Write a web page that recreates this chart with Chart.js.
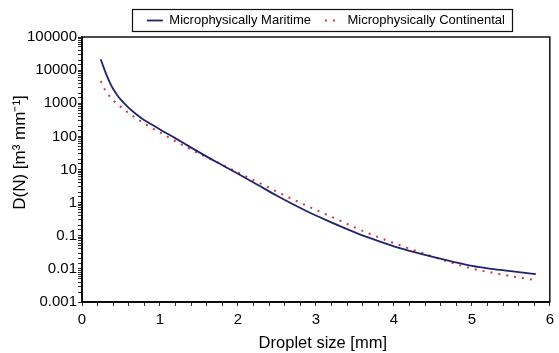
<!DOCTYPE html>
<html><head><meta charset="utf-8">
<script src="https://cdn.jsdelivr.net/npm/chart.js@4/dist/chart.umd.min.js"></script>
<style>html,body{margin:0;padding:0;background:#fff}#wrap{width:559px;height:353px}</style>
</head><body><div id="wrap"><canvas id="c" width="559" height="353"></canvas></div>
<script>
const dropletSize = [0.24, 0.27, 0.3, 0.35, 0.4, 0.45, 0.5, 0.6, 0.7, 0.8, 0.9, 1.0, 1.2, 1.4, 1.6, 1.8, 2.0, 2.25, 2.5, 2.75, 3.0, 3.25, 3.5, 3.75, 4.0, 4.25, 4.5, 4.75, 5.0, 5.25, 5.5, 5.82];
const maritime = [21380, 13490, 8710, 4570, 2690, 1780, 1260, 724, 457, 309, 224, 162, 87, 45.7, 24.5, 13.5, 7.41, 3.47, 1.62, 0.794, 0.407, 0.224, 0.126, 0.0759, 0.0479, 0.0324, 0.0229, 0.0166, 0.0123, 0.0100, 0.0085, 0.0069];
const continental = [4680, 3310, 2400, 1660, 1230, 955, 759, 501, 347, 245, 178, 132, 70.8, 39.8, 23.4, 13.8, 8.13, 4.17, 2.14, 1.12, 0.603, 0.331, 0.178, 0.100, 0.0603, 0.0372, 0.0234, 0.0151, 0.0102, 0.00776, 0.00603, 0.00457];
const seriesNames = ['Microphysically Maritime', 'Microphysically Continental'];
const xTickLabels = ['0', '1', '2', '3', '4', '5', '6'];
const yTickLabels = ['100000', '10000', '1000', '100', '10', '1', '0.1', '0.01', '0.001'];

Chart.defaults.font.family = "'Liberation Sans', Arial, sans-serif";
Chart.defaults.color = '#000';
const tickFont = {size: 15};

const toPts = arr => dropletSize.map((x, i) => ({x: x, y: arr[i]}));

const framePlugin = {
  id: 'frame',
  afterLayout(chart) {
    const l = chart.legend;
    if (l) { l.left += 10; l.right += 10; }
  },
  afterDatasetsDraw(chart) {
    const a = chart.chartArea, ctx = chart.ctx;
    ctx.save();
    ctx.strokeStyle = '#111';
    ctx.lineWidth = 1.5;
    ctx.strokeRect(a.left, a.top, a.right - a.left, a.bottom - a.top);
    ctx.restore();
  },
  afterDraw(chart) {
    const lg = chart.legend;
    if (!lg || !lg.legendHitBoxes || !lg.legendHitBoxes.length) return;
    const hb = lg.legendHitBoxes;
    const first = hb[0], last = hb[hb.length - 1];
    const cy = Math.round(first.top + first.height / 2) - 0.5;
    const ctx = chart.ctx;
    ctx.save();
    ctx.strokeStyle = '#111';
    ctx.lineWidth = 1.2;
    const x0 = Math.round(first.left - 15) + 0.5;
    const x1 = Math.round(last.left + last.width + 7) + 0.5;
    ctx.strokeRect(x0, cy - 11, x1 - x0, 22);
    ctx.restore();
  }
};

new Chart(document.getElementById('c'), {
  type: 'line',
  data: {
    datasets: [
      {label: seriesNames[0], data: toPts(maritime), borderColor: '#1f2370', backgroundColor: '#1f2370', borderWidth: 1.8, pointRadius: 0, cubicInterpolationMode: 'monotone', fill: false},
      {label: seriesNames[1], data: toPts(continental), borderColor: '#d03a3a', backgroundColor: '#d03a3a', borderWidth: 2, borderDash: [2, 6], pointRadius: 0, cubicInterpolationMode: 'monotone', fill: false}
    ]
  },
  options: {
    responsive: false,
    animation: false,
    devicePixelRatio: 1,
    layout: {padding: {top: 0, right: 2, left: 0, bottom: 0}},
    plugins: {
      legend: {
        display: true,
        position: 'top',
        fullSize: false,
        labels: {
          usePointStyle: true,
          pointStyle: 'line',
          pointStyleWidth: 16,
          boxHeight: 10,
          padding: 14,
          font: {size: 13},
          color: '#000',
          generateLabels(chart) {
            const items = Chart.defaults.plugins.legend.labels.generateLabels(chart);
            items.forEach(it => {
              const ds = chart.data.datasets[it.datasetIndex];
              it.lineDash = ds.borderDash || [];
              it.lineWidth = ds.borderWidth;
              it.strokeStyle = ds.borderColor;
            });
            return items;
          }
        }
      },
      tooltip: {enabled: false}
    },
    scales: {
      x: {
        type: 'linear',
        min: 0, max: 6,
        border: {display: true, color: '#000', width: 2},
        grid: {display: true, drawOnChartArea: false, drawTicks: true, tickLength: 4, color: '#333'},
        ticks: {
          stepSize: 0.2, autoSkip: false, maxRotation: 0, padding: 5,
          font: tickFont, color: '#000',
          callback: v => Math.abs(v - Math.round(v)) < 1e-6 ? xTickLabels[Math.round(v)] : ''
        },
        title: {display: true, text: '\u00a0\u00a0\u00a0Droplet size [mm]', font: {size: 16.5}, color: '#000', padding: {top: 1, bottom: 0}},
        afterFit: s => { s.height = 51; }
      },
      y: {
        type: 'logarithmic',
        min: 0.001, max: 100000,
        border: {display: true, color: '#000', width: 2},
        grid: {display: true, drawOnChartArea: false, drawTicks: true, tickLength: 4, color: '#333'},
        ticks: {
          autoSkip: false, padding: 1,
          font: tickFont, color: '#000',
          callback: v => {
            const l = Math.log10(v);
            if (Math.abs(l - Math.round(l)) < 1e-6) return yTickLabels[5 - Math.round(l)];
            return '';
          }
        },
        title: {display: true, text: '\u2002\u2002\u2002\u2002D(N) [m³ mm⁻¹]', font: {size: 17}, color: '#000', padding: {top: 10, bottom: 0}},
        afterFit: s => { s.width = 82; }
      }
    }
  },
  plugins: [framePlugin]
});
</script>
</body></html>
